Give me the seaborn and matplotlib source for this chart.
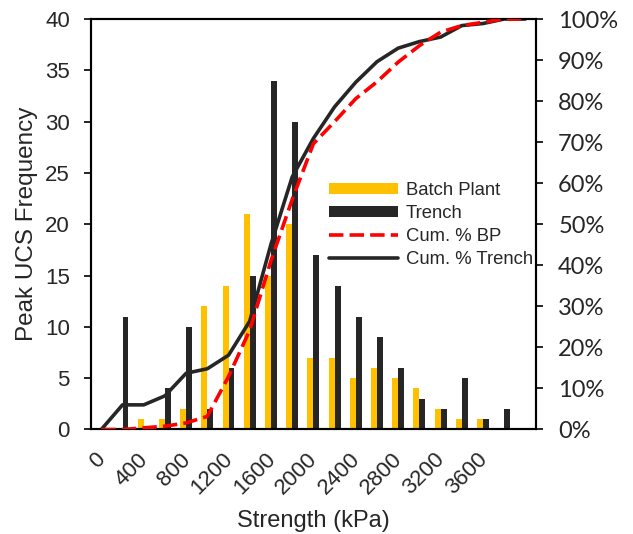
import numpy as np
import pandas as pd
import seaborn as sns
import matplotlib
matplotlib.use("Agg")
from matplotlib import pyplot as plt
from matplotlib.patches import Patch
from matplotlib.lines import Line2D
from matplotlib.ticker import FixedLocator, PercentFormatter

# bins of strength (kPa)
bins = ["0", "200", "400", "600", "800", "1000", "1200", "1400", "1600", "1800", "2000",
        "2200", "2400", "2600", "2800", "3000", "3200", "3400", "3600", "3800", "4000"]
batch_plant = [0, 0, 1, 1, 2, 12, 14, 21, 15, 20, 7, 7, 5, 6, 5, 4, 2, 1, 1, 0, 0]
trench = [0, 11, 0, 4, 10, 2, 6, 15, 34, 30, 17, 14, 11, 9, 6, 3, 2, 5, 1, 2, 0]
# cumulative %
cum_bp = [0, 0, 0.4, 0.8, 1.6, 3.2, 12.9, 24.2, 41.1, 56.0, 69.6, 75.0, 80.6, 84.7,
          89.5, 93.5, 96.8, 98.4, 99.2, 100, 100]
cum_trench = [0, 6.0, 6.0, 8.2, 13.7, 14.8, 18.1, 26.4, 45.1, 61.5, 70.9, 78.6, 84.6,
              89.6, 92.9, 94.5, 95.6, 98.4, 98.9, 100, 100]

tick_labels = ["0", "400", "800", "1200", "1600", "2000", "2400", "2800", "3200", "3600"]

YELLOW = "#FFC000"
DARK = "#262626"
RED = "#FF0000"

df = pd.DataFrame({"bin": bins, "Batch Plant": batch_plant, "Trench": trench})
melted = df.melt(id_vars="bin", value_vars=["Batch Plant", "Trench"],
                 var_name="series", value_name="count")

sns.set_style("white")
plt.rcParams["font.family"] = ["Liberation Sans", "DejaVu Sans"]

fig = plt.figure(figsize=(6.33, 5.34), dpi=100)
ax = fig.add_axes([0.1433, 0.1957, 0.7035, 0.7687])

sns.barplot(data=melted, x="bin", y="count", hue="series", order=bins,
            palette={"Batch Plant": YELLOW, "Trench": DARK}, width=0.56,
            errorbar=None, saturation=1, legend=False, linewidth=0, ax=ax)

ax.set_ylim(0, 40)
ax.set_yticks(range(0, 41, 5))
ax.set_xlim(-0.5, len(bins) - 0.5)
ax.set_ylabel("Peak UCS Frequency", fontsize=17.5, labelpad=5)
ax.set_xlabel("Strength (kPa)", fontsize=17, labelpad=8)

# label every other bin; invisible major ticks nudged left so the rotated text sits like Excel's
ax.set_xticks(np.arange(0, 19, 2) - 0.3)
ax.set_xticklabels(tick_labels, rotation=45, ha="right", rotation_mode="anchor", fontsize=16)
ax.xaxis.set_minor_locator(FixedLocator(np.arange(-0.5, len(bins), 1)))
ax.tick_params(axis="x", which="major", length=0, pad=14)
ax.tick_params(axis="x", which="minor", length=5, width=1.2, color="black", direction="out")
ax.tick_params(axis="y", length=5, width=1.2, color="black", direction="out", labelsize=16, pad=10)
ax.tick_params(bottom=True, left=True)

for s in ax.spines.values():
    s.set_color("black")
    s.set_linewidth(1.5)

ax2 = ax.twinx()
idx = np.arange(len(bins))
sns.lineplot(x=idx, y=cum_trench, color=DARK, lw=2.6, ax=ax2)
sns.lineplot(x=idx, y=cum_bp, color=RED, lw=2.6, ax=ax2, zorder=3)
ax2.lines[-1].set_dashes((4, 1.7))
ax2.set_ylim(0, 100)
ax2.set_yticks(range(0, 101, 10))
ax2.yaxis.set_major_formatter(PercentFormatter(decimals=0))
ax2.tick_params(axis="y", right=True, length=5, width=1.2, color="black",
                direction="out", labelsize=17, pad=11)
for lab in ax2.get_yticklabels():
    lab.set_family(["Lato", "DejaVu Sans"])
for s in ax2.spines.values():
    s.set_color("black")
    s.set_linewidth(1.5)

handles = [
    Patch(facecolor=YELLOW, edgecolor="none", label="Batch Plant"),
    Patch(facecolor=DARK, edgecolor="none", label="Trench"),
    Line2D([], [], color=RED, lw=2.6, dashes=(4, 1.7), label="Cum. % BP"),
    Line2D([], [], color=DARK, lw=2.6, label="Cum. % Trench"),
]
fig.legend(handles=handles, loc="upper left", bbox_to_anchor=(0.52, 0.659),
           frameon=False, fontsize=13.3, handlelength=3.7, handleheight=0.55,
           handletextpad=0.45, labelspacing=0.32, borderpad=0, borderaxespad=0)

fig.savefig("out.png", dpi=100)
